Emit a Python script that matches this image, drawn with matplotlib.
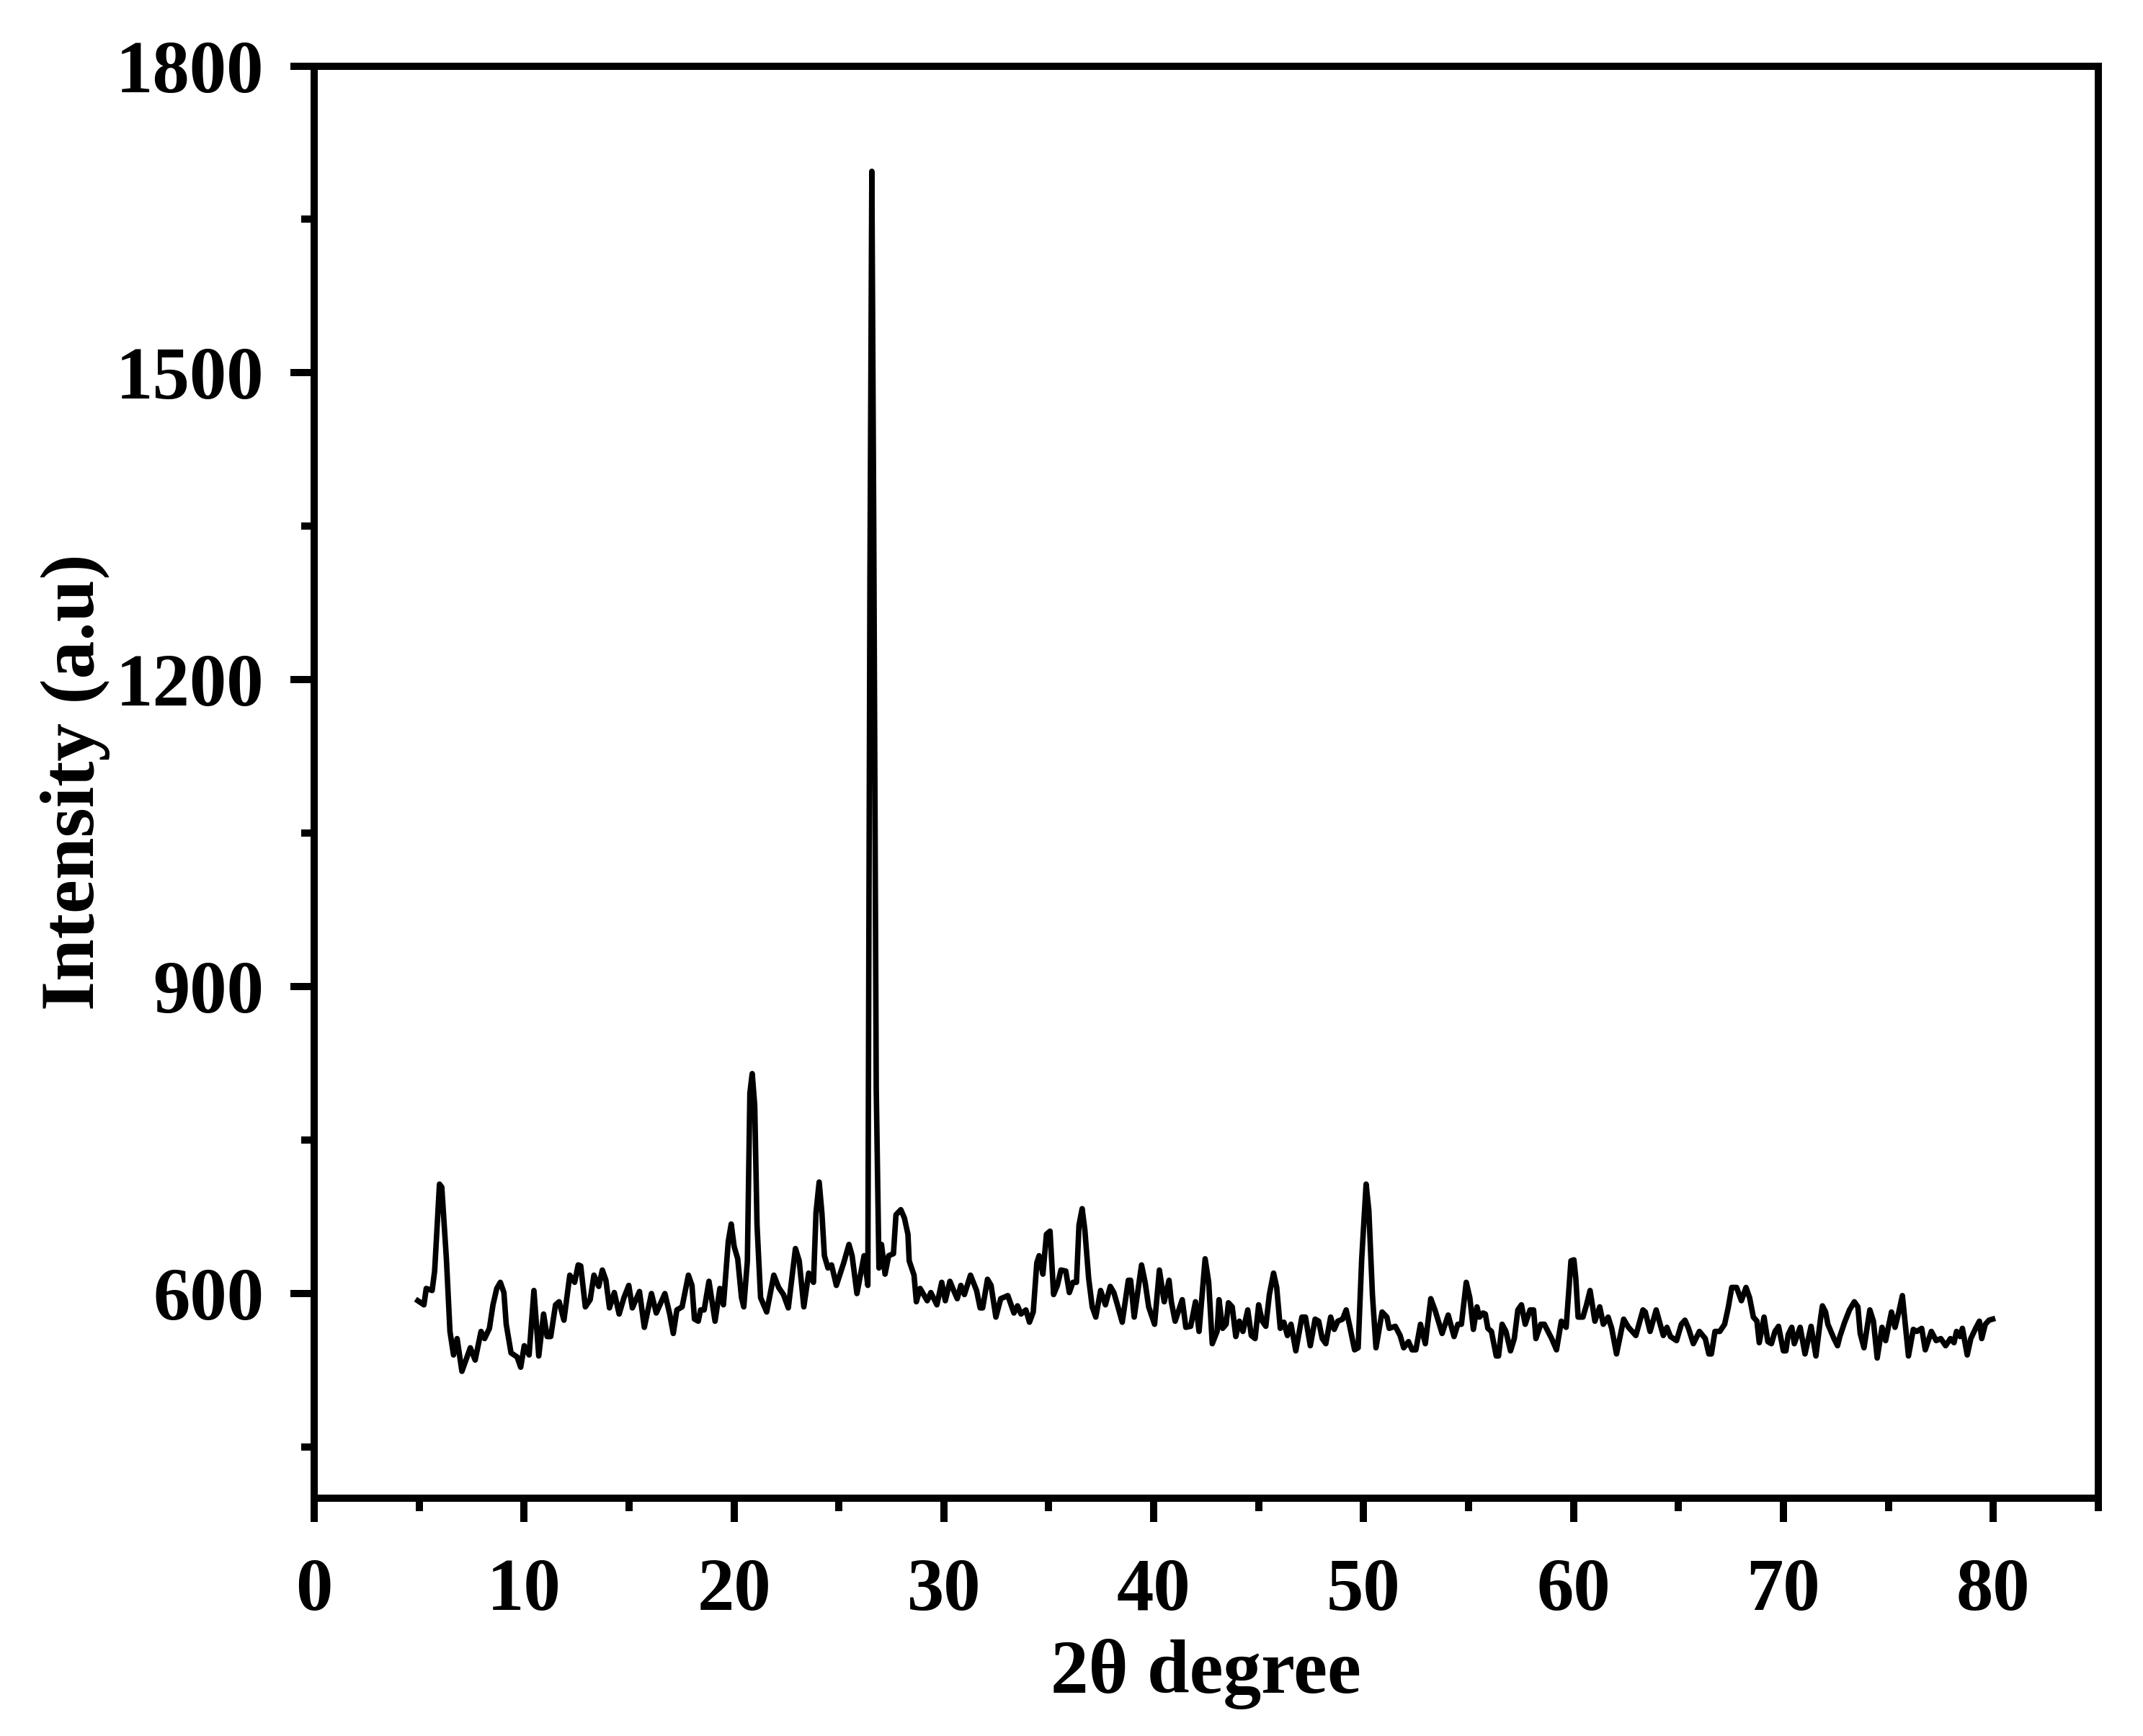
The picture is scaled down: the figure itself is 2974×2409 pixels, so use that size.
import matplotlib
matplotlib.use("Agg")
import matplotlib.pyplot as plt
from matplotlib.ticker import MultipleLocator, FixedLocator

two_theta = [
    4.94, 5.23, 5.34, 5.62, 5.74, 5.97, 6.08, 6.30, 6.47, 6.64, 6.81, 7.04, 7.44, 7.67, 7.95,
    8.12, 8.35, 8.52, 8.70, 8.87, 9.04, 9.15, 9.38, 9.67, 9.84, 10.01, 10.24, 10.47, 10.70,
    10.93, 11.10, 11.27, 11.50, 11.67, 11.90, 12.18, 12.41, 12.58, 12.70, 12.92, 13.15, 13.33,
    13.56, 13.73, 13.90, 14.07, 14.30, 14.53, 14.76, 14.99, 15.16, 15.50, 15.73, 16.07, 16.30,
    16.71, 16.94, 17.11, 17.28, 17.53, 17.83, 18.00, 18.12, 18.30, 18.41, 18.58, 18.81, 19.10,
    19.33, 19.50, 19.73, 19.87, 20.01, 20.18, 20.36, 20.47, 20.64, 20.76, 20.87, 20.99, 21.10,
    21.27, 21.56, 21.90, 22.13, 22.36, 22.59, 22.93, 23.11, 23.33, 23.56, 23.79, 23.91, 24.06,
    24.19, 24.31, 24.48, 24.65, 24.88, 25.23, 25.48, 25.63, 25.86, 26.20, 26.38, 26.48, 26.57,
    26.66, 26.78, 26.91, 27.03, 27.20, 27.37, 27.60, 27.72, 27.95, 28.12, 28.29, 28.35, 28.58,
    28.69, 28.87, 29.21, 29.38, 29.67, 29.90, 30.07, 30.29, 30.47, 30.64, 30.81, 30.98, 31.27,
    31.56, 31.73, 31.85, 32.08, 32.25, 32.48, 32.71, 33.05, 33.34, 33.51, 33.68, 33.91, 34.08,
    34.26, 34.43, 34.54, 34.72, 34.89, 35.06, 35.23, 35.41, 35.58, 35.81, 35.98, 36.15, 36.32,
    36.44, 36.59, 36.72, 36.90, 37.07, 37.24, 37.47, 37.70, 37.93, 38.10, 38.27, 38.50, 38.79,
    38.90, 39.07, 39.42, 39.59, 39.76, 40.04, 40.27, 40.50, 40.73, 40.84, 41.02, 41.36, 41.53,
    41.76, 41.99, 42.16, 42.45, 42.62, 42.79, 43.02, 43.11, 43.28, 43.45, 43.56, 43.74, 43.91,
    44.08, 44.25, 44.48, 44.65, 44.83, 45.00, 45.17, 45.34, 45.51, 45.71, 45.86, 46.03, 46.20,
    46.37, 46.54, 46.77, 47.06, 47.23, 47.46, 47.69, 47.86, 48.03, 48.20, 48.43, 48.60, 48.77,
    49.00, 49.17, 49.34, 49.57, 49.74, 49.91, 50.12, 50.25, 50.42, 50.59, 50.88, 51.11, 51.22,
    51.51, 51.74, 51.91, 52.14, 52.31, 52.49, 52.71, 52.94, 53.20, 53.40, 53.74, 54.03, 54.31,
    54.49, 54.66, 54.89, 55.06, 55.23, 55.40, 55.52, 55.69, 55.80, 55.92, 56.09, 56.32, 56.43,
    56.60, 56.78, 57.00, 57.18, 57.35, 57.52, 57.70, 57.93, 58.10, 58.21, 58.44, 58.61, 58.96,
    59.19, 59.42, 59.65, 59.88, 60.02, 60.11, 60.22, 60.45, 60.62, 60.79, 61.02, 61.25, 61.42,
    61.65, 61.82, 62.05, 62.39, 62.62, 62.97, 63.31, 63.42, 63.65, 63.94, 64.28, 64.45, 64.62,
    64.91, 65.14, 65.31, 65.48, 65.71, 66.00, 66.28, 66.45, 66.57, 66.74, 66.97, 67.20, 67.37,
    67.54, 67.77, 68.00, 68.22, 68.39, 68.57, 68.74, 68.85, 69.08, 69.26, 69.43, 69.60, 69.77,
    70.00, 70.12, 70.23, 70.40, 70.52, 70.80, 71.03, 71.32, 71.55, 71.78, 71.86, 72.01, 72.12,
    72.41, 72.58, 72.69, 72.92, 73.15, 73.38, 73.55, 73.66, 73.84, 74.12, 74.29, 74.47, 74.70,
    74.87, 75.15, 75.32, 75.50, 75.67, 75.96, 76.19, 76.36, 76.59, 76.76, 77.05, 77.28, 77.50,
    77.73, 77.96, 78.13, 78.25, 78.42, 78.53, 78.76, 78.93, 79.16, 79.34, 79.45, 79.62, 79.80,
    79.97,
]

intensity = [
    593, 589, 605, 603, 622, 707, 704, 634, 563, 540, 556, 524, 547, 535, 563,
    556, 566, 589, 605, 611, 601, 570, 542, 538, 528, 549, 540, 603, 539,
    580, 558, 558, 589, 592, 574, 618, 611, 628, 627, 587, 594, 618,
    607, 623, 613, 586, 601, 580, 596, 608, 586, 602, 567, 600, 581,
    600, 580, 561, 584, 587, 618, 608, 575, 573, 584, 584, 612, 573,
    605, 589, 651, 668, 646, 634, 596, 587, 632, 796, 815, 784, 667,
    596, 582, 618, 606, 599, 586, 644, 632, 587, 620, 611, 679, 709,
    679, 637, 625, 628, 608, 630, 648, 637, 600, 637, 608, 1300, 1697,
    1350, 800, 625, 648, 619, 637, 639, 677, 682, 674, 658, 632, 618,
    592, 605, 593, 601, 589, 611, 593, 612, 603, 595, 608, 599, 618,
    603, 586, 586, 614, 608, 577, 595, 598, 581, 588, 580, 584, 572,
    582, 630, 637, 619, 658, 661, 599, 608, 623, 622, 601, 611, 611,
    667, 683, 662, 615, 587, 577, 603, 589, 607, 601, 589, 572, 613,
    613, 577, 628, 611, 587, 570, 623, 592, 613, 592, 573, 594, 567,
    568, 592, 563, 634, 611, 551, 563, 594, 566, 570, 591, 587, 558,
    573, 563, 584, 559, 556, 589, 573, 568, 599, 620, 606, 566, 572,
    559, 570, 544, 577, 577, 549, 575, 573, 556, 551, 577, 565, 573,
    575, 584, 568, 545, 547, 634, 707, 681, 599, 547, 582, 577, 566,
    568, 559, 547, 553, 545, 545, 570, 551, 595, 584, 561, 579, 558,
    570, 570, 611, 596, 565, 587, 577, 581, 580, 566, 563, 539, 539,
    570, 563, 544, 556, 584, 589, 570, 584, 584, 556, 570, 570, 556,
    545, 573, 567, 632, 633, 615, 577, 577, 589, 603, 573, 587, 570,
    577, 566, 541, 575, 567, 559, 584, 582, 563, 584, 559, 567, 558,
    554, 570, 574, 566, 551, 563, 556, 541, 541, 563, 563, 570, 586,
    606, 606, 593, 606, 596, 577, 573, 552, 577, 553, 551, 563, 568,
    544, 544, 560, 567, 551, 567, 541, 568, 539, 577, 588, 582, 570,
    556, 549, 558, 572, 584, 592, 587, 561, 547, 584, 573, 537, 567,
    554, 582, 567, 582, 598, 539, 565, 563, 566, 545, 563, 554, 556,
    549, 556, 552, 563, 558, 566, 540, 556, 566, 573, 556, 570, 574,
    575,
]

x_major = [0, 10, 20, 30, 40, 50, 60, 70, 80]
y_major = [600, 900, 1200, 1500, 1800]
y_minor = [450, 750, 1050, 1350, 1650]

plt.rcParams['font.family'] = ['Liberation Serif', 'DejaVu Serif']
plt.rcParams['font.weight'] = 'bold'

fig = plt.figure(figsize=(29.74, 24.09), dpi=100)
ax = fig.add_axes([0.1466, 0.137, 0.8325, 0.825])

ax.plot(two_theta, intensity, color='black', linewidth=5.5, solid_joinstyle='round')

ax.set_xlim(0, 85)
ax.set_ylim(400, 1800)
ax.xaxis.set_major_locator(FixedLocator(x_major))
ax.xaxis.set_minor_locator(MultipleLocator(5))
ax.yaxis.set_major_locator(FixedLocator(y_major))
ax.yaxis.set_minor_locator(FixedLocator(y_minor))

for s in ax.spines.values():
    s.set_linewidth(7.2)

ax.tick_params(axis='both', which='major', direction='out', length=24, width=7.2,
               labelsize=74, top=False, right=False)
ax.tick_params(axis='both', which='minor', direction='out', length=13, width=7.2,
               top=False, right=False)
ax.tick_params(axis='x', which='major', pad=36)
ax.tick_params(axis='y', which='major', pad=26)
for lab in ax.get_xticklabels() + ax.get_yticklabels():
    lab.set_fontweight('bold')

ax.set_xlabel('2θ degree', fontsize=76, fontweight='bold')
ax.set_ylabel('Intensity (a.u)', fontsize=76, fontweight='bold')
ax.xaxis.label.set_va('center')
ax.yaxis.label.set_va('center')
ax.xaxis.set_label_coords(0.5, -0.1227)
ax.yaxis.set_label_coords(-0.134, 0.5)

fig.savefig('out.png', dpi=100, facecolor='white')
